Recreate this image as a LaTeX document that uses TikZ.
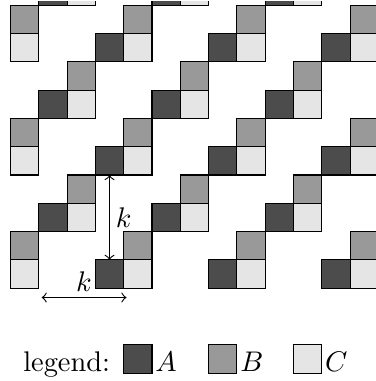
\documentclass[tikz,border=0pt]{standalone}
\begin{document}
\begin{tikzpicture}[x=0.35cm, y=0.35cm,
  cellA/.style={draw=black, fill=black!70},
  cellB/.style={draw=black, fill=black!40},
  cellC/.style={draw=black, fill=black!10},
  dim/.style={<->},
  dimlabel/.style={inner sep=2pt}]
  \useasboundingbox (-0.371,0.184) rectangle (12.915,-13.28);

  % staircase tiling, one A-C-B step per lattice point
  \begin{scope}
    \clip (-0.371,0.12) rectangle (12.915,-10.5);
    \foreach \c in {-1,1,...,11} {
      \foreach \v in {1,-1,...,-9} {
        \pgfmathtruncatemacro{\t}{mod(\c-(\v)+20,4)}
        \ifnum\t=0
          \ifnum\c>-1
            \draw[cellA] (\c,\v) rectangle ++(1,-1);
          \fi
          \draw[cellC] (\c+1,\v) rectangle ++(1,-1);
          \draw[cellB] (\c+1,\v+1) rectangle ++(1,-1);
        \fi
      }
    }
  \end{scope}

  % the two gaps
  \coordinate (vtop) at (3.5,-6);
  \coordinate (vbot) at (3.5,-9);
  \draw[dim] (vtop) -- node[right, dimlabel] (kv) {$k$} (vbot);

  \coordinate (hleft) at (1.1,-10.33);
  \coordinate (hright) at (4.1,-10.33);
  \draw[dim] (hleft) -- node[above, dimlabel] (kh) {$k$} (hright);

  % legend
  \node[anchor=base east, inner sep=0pt] (legendtext) at (3.54,-12.95) {legend:};
  \draw[cellA] (4,-12) rectangle (5,-13);
  \node[anchor=base west, inner sep=1pt] (labA) at (5,-12.95) {$A$};
  \draw[cellB] (7,-12) rectangle (8,-13);
  \node[anchor=base west, inner sep=1pt] (labB) at (8,-12.95) {$B$};
  \draw[cellC] (10,-12) rectangle (11,-13);
  \node[anchor=base west, inner sep=1pt] (labC) at (11,-12.95) {$C$};
\end{tikzpicture}
\end{document}
